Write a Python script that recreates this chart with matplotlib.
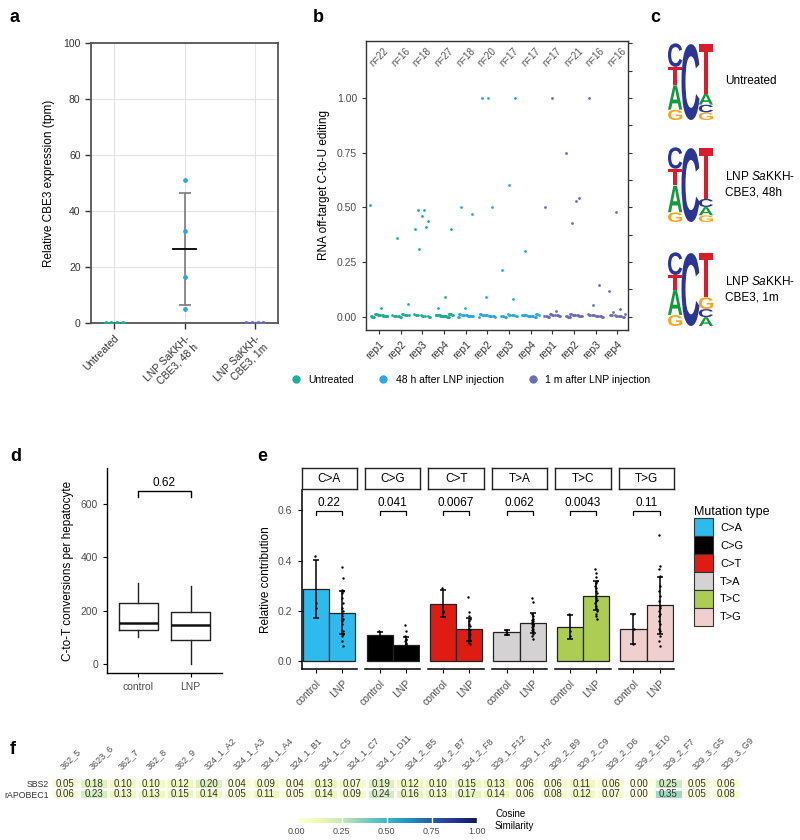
import numpy as np
import matplotlib
matplotlib.use('Agg')
import matplotlib.pyplot as plt
from matplotlib.textpath import TextPath
from matplotlib.patches import PathPatch, Patch
from matplotlib.font_manager import FontProperties
from matplotlib.lines import Line2D
import matplotlib.transforms as mtransforms

plt.rcParams['font.family'] = ['Liberation Sans', 'DejaVu Sans']
plt.rcParams['mathtext.fontset'] = 'custom'
plt.rcParams['mathtext.rm'] = 'Liberation Sans'
plt.rcParams['mathtext.it'] = 'Liberation Sans:italic'

# ------------------------------------------------------------------ data
# panel a
a_groups = ['Untreated', 'LNP SaKKH-\nCBE3, 48 h', 'LNP SaKKH-\nCBE3, 1m']
a_untreated = [0, 0, 0, 0]
a_48h = [51, 33, 16.5, 5]
a_1m = [0, 0, 0, 0]

# panel b
b_reps = ['rep1', 'rep2', 'rep3', 'rep4'] * 3
b_n = [22, 16, 18, 27, 18, 20, 17, 17, 17, 21, 16, 16]
b_series = ['Untreated', '48 h after LNP injection', '1 m after LNP injection']
b_nonzero = [
    [0.51, 0.04], [0.36, 0.06], [0.49, 0.49, 0.44, 0.46, 0.40, 0.41, 0.31], [0.40, 0.09, 0.04],
    [0.50, 0.47, 0.04], [1.00, 1.00, 0.50, 0.09], [1.00, 0.60, 0.215, 0.08], [0.30],
    [1.00, 0.50, 0.025], [0.545, 0.43, 0.75, 0.53], [1.00, 0.145, 0.055], [0.48, 0.12, 0.035, 0.02],
]

# panel c (probabilities, bottom -> top)
c_labels = ['Untreated', 'LNP $\\it{Sa}$KKH-\nCBE3, 48h', 'LNP $\\it{Sa}$KKH-\nCBE3, 1m']
c_logos = [
    [[('G', 0.135), ('A', 0.32), ('T', 0.235), ('C', 0.31)], [('C', 1.0)],
     [('G', 0.10), ('C', 0.10), ('A', 0.14), ('T', 0.66)]],
    [[('G', 0.13), ('A', 0.36), ('T', 0.22), ('C', 0.29)], [('C', 1.0)],
     [('G', 0.09), ('A', 0.11), ('C', 0.11), ('T', 0.69)]],
    [[('G', 0.15), ('A', 0.34), ('T', 0.20), ('C', 0.31)], [('C', 1.0)],
     [('A', 0.12), ('C', 0.11), ('G', 0.16), ('T', 0.61)]],
]

# panel d
d_groups = ['control', 'LNP']
d_stats = [  # whislo, q1, med, q3, whishi
    [100, 126, 152, 227, 302],
    [0, 90, 146, 196, 292],
]
d_p = '0.62'

# panel e
e_types = ['C>A', 'C>G', 'C>T', 'T>A', 'T>C', 'T>G']
e_pvals = ['0.22', '0.041', '0.0067', '0.062', '0.0043', '0.11']
e_control = [
    [0.42, 0.23, 0.21],
    [0.12, 0.10, 0.09],
    [0.29, 0.20, 0.195],
    [0.125, 0.11, 0.11],
    [0.19, 0.12, 0.10],
    [0.19, 0.13, 0.07],
]
e_lnp = [
    [0.375, 0.33, 0.285, 0.28, 0.27, 0.25, 0.23, 0.21, 0.2, 0.19, 0.18, 0.17, 0.16, 0.15, 0.12, 0.11, 0.11, 0.1, 0.08, 0.06],
    [0.145, 0.12, 0.1, 0.09, 0.085, 0.08, 0.075, 0.07, 0.065, 0.06, 0.06, 0.055, 0.05, 0.05, 0.045, 0.04, 0.035, 0.03, 0.03, 0.02],
    [0.255, 0.195, 0.18, 0.17, 0.16, 0.15, 0.14, 0.13, 0.125, 0.12, 0.115, 0.11, 0.105, 0.1, 0.095, 0.09, 0.085, 0.08, 0.075, 0.07],
    [0.25, 0.235, 0.19, 0.18, 0.17, 0.165, 0.16, 0.155, 0.15, 0.15, 0.148, 0.145, 0.14, 0.135, 0.13, 0.125, 0.12, 0.11, 0.1, 0.09],
    [0.365, 0.35, 0.335, 0.32, 0.31, 0.3, 0.29, 0.28, 0.27, 0.26, 0.25, 0.245, 0.24, 0.23, 0.22, 0.21, 0.2, 0.19, 0.18, 0.17],
    [0.5, 0.38, 0.365, 0.34, 0.3, 0.28, 0.26, 0.24, 0.22, 0.21, 0.2, 0.19, 0.18, 0.16, 0.15, 0.13, 0.12, 0.1, 0.08, 0.06],
]
e_colors = ['#2EBAED', '#000000', '#DE1C14', '#D4D2D2', '#ADCC54', '#F0D0CE']

# panel f
f_samples = ['362_5', '3623_6', '362_7', '362_8', '362_9', '324_1_A2', '324_1_A3', '324_1_A4',
             '324_1_B1', '324_1_C5', '324_1_C7', '324_1_D11', '324_2_B5', '324_2_B7', '324_2_F8',
             '329_1_F12', '329_1_H2', '329_2_B9', '329_2_C9', '329_2_D6', '329_2_E10', '329_2_F7',
             '329_3_G5', '329_3_G9']
f_rows = ['SBS2', 'rAPOBEC1']
f_sbs2 = [0.05, 0.18, 0.10, 0.10, 0.12, 0.20, 0.04, 0.09, 0.04, 0.13, 0.07, 0.19, 0.12, 0.10,
          0.15, 0.13, 0.06, 0.06, 0.11, 0.06, 0.00, 0.25, 0.05, 0.06]
f_rapobec1 = [0.06, 0.23, 0.13, 0.13, 0.15, 0.14, 0.05, 0.11, 0.05, 0.14, 0.09, 0.24, 0.16, 0.13,
              0.17, 0.14, 0.06, 0.08, 0.12, 0.07, 0.00, 0.35, 0.05, 0.08]

# ------------------------------------------------------------------ style
COL_UNT = '#1fae95'
COL_48 = '#2ba6e1'
COL_1M = '#6b6db9'
TXT = '#4d4d4d'
W, H = 800, 840
fig = plt.figure(figsize=(8, 8.4), dpi=100)


def rect(x0, y0, x1, y1):
    return [x0 / W, 1 - y1 / H, (x1 - x0) / W, (y1 - y0) / H]


def panel_letter(x, y, s):
    fig.text(x / W, 1 - y / H, s, fontsize=13, fontweight='bold', ha='left', va='center')


panel_letter(10, 17, 'a')
panel_letter(313, 17, 'b')
panel_letter(650, 17, 'c')
panel_letter(10, 457, 'd')
panel_letter(257, 457, 'e')
panel_letter(10, 749, 'f')

# ------------------------------------------------------------------ panel a
ax = fig.add_axes(rect(91, 43, 278, 323))
a_vals = [a_untreated, a_48h, a_1m]
a_cols = [COL_UNT, COL_48, COL_1M]
for i, (vals, c) in enumerate(zip(a_vals, a_cols)):
    vals = np.asarray(vals, float)
    if np.all(vals == vals[0]):
        xs = i + np.linspace(-0.12, 0.12, len(vals))
    else:
        xs = np.full(len(vals), float(i))
    ax.scatter(xs, vals, s=12, color=c, zorder=3, linewidths=0)
m = np.mean(a_48h)
sd = np.std(a_48h, ddof=1)
ax.errorbar(1, m, yerr=sd, fmt='none', ecolor='#7a7a7a', capsize=4.5, elinewidth=1.2, capthick=1.2, zorder=2)
ax.plot([1 - 0.16, 1 + 0.16], [m, m], color='black', lw=1.3, zorder=4)
ax.set_xlim(-0.33, 2.33)
ax.set_ylim(0, 100)
ax.set_yticks([0, 20, 40, 60, 80, 100])
ax.set_xticks([0, 1, 2])
ax.set_xticklabels(a_groups, rotation=45, ha='right', rotation_mode='anchor', fontsize=8.5, multialignment='right')
ax.grid(True, color='#e3e3e3', lw=0.8)
ax.set_axisbelow(True)
for s in ax.spines.values():
    s.set_color('#555555')
    s.set_linewidth(1.3)
ax.tick_params(labelsize=7.5, colors='#333333', length=4, width=1)
ax.set_ylabel('Relative CBE3 expression (tpm)', fontsize=8.5, labelpad=6)

# ------------------------------------------------------------------ panel b
ax = fig.add_axes(rect(366, 41, 628, 330))
grp_cols = [COL_UNT] * 4 + [COL_48] * 4 + [COL_1M] * 4
for i in range(12):
    nz = list(b_nonzero[i])
    n0 = b_n[i] - len(nz)
    k = np.arange(b_n[i])
    jx = ((k * 0.6180339 + 0.31 * i) % 1 - 0.5) * 0.8
    jy = np.concatenate([np.zeros(len(nz)), ((np.arange(n0) * 0.377) % 1) * 0.014])
    vals = np.array(nz + [0.0] * n0) + jy
    ax.scatter(i + jx, vals, s=4, color=grp_cols[i], linewidths=0, zorder=3)
    ax.text(i, 1.185, 'n=%d' % b_n[i], rotation=45, ha='center', va='center', fontsize=7, color='#555555')
ax.set_xlim(-0.6, 11.5)
ax.set_ylim(-0.06, 1.26)
ax.set_yticks([0, 0.25, 0.5, 0.75, 1.0])
ax.set_yticklabels(['0.00', '0.25', '0.50', '0.75', '1.00'])
ax.set_xticks(range(12))
ax.set_xticklabels(b_reps, rotation=45, ha='right', rotation_mode='anchor', fontsize=8.5)
ax.set_yticks([0.125, 0.375, 0.625, 0.875, 1.125, 1.25], minor=True)
for s in ax.spines.values():
    s.set_color('#333333')
    s.set_linewidth(1.0)
ax.tick_params(labelsize=7.5, colors='#333333', length=3, width=0.8)
ax.tick_params(axis='y', which='both', right=True, labelright=False, labelcolor=TXT)
ax.tick_params(axis='y', which='minor', left=False, length=3, width=0.8, color='#333333')
ax.set_ylabel('RNA off-target C-to-U editing', fontsize=8.5, labelpad=5)
handles = [Line2D([], [], marker='o', ls='', color=c, markersize=5) for c in (COL_UNT, COL_48, COL_1M)]
fig.legend(handles, b_series, loc='center', bbox_to_anchor=(470 / W, 1 - 380 / H), ncol=3,
           frameon=False, fontsize=7.5, handletextpad=0.6, columnspacing=2.2, handlelength=1.2)

# ------------------------------------------------------------------ panel c
fp = FontProperties(family='Liberation Sans', weight='bold')
LOGO_COL = {'A': '#129a3c', 'C': '#2b3592', 'G': '#f5a623', 'T': '#d91d2b'}


def draw_letter(axl, ch, x0, y0, w, h, color):
    tp = TextPath((0, 0), ch, size=1, prop=fp)
    bb = tp.get_extents()
    tr = mtransforms.Affine2D().translate(-bb.x0, -bb.y0).scale(w / bb.width, h / bb.height).translate(x0, y0)
    axl.add_patch(PathPatch(tr.transform_path(tp), fc=color, ec='none'))


logo_y = [(43, 120), (147, 222), (252, 326)]
pos_w = [0.95, 1.2, 0.95]
pos_x = [0.0, 0.9, 2.05]
for li, logo in enumerate(c_logos):
    y0, y1 = logo_y[li]
    axl = fig.add_axes(rect(668, y0, 713, y1))
    axl.set_xlim(0, 3)
    axl.set_ylim(0, 1)
    axl.axis('off')
    for pi, stack in enumerate(logo):
        base = 0.0
        for ch, p in stack:
            draw_letter(axl, ch, pos_x[pi], base, pos_w[pi], p * 0.985, LOGO_COL[ch])
            base += p
    fig.text(725 / W, 1 - (y0 + y1) / 2 / H, c_labels[li], fontsize=8.5, ha='left', va='center', linespacing=1.4)

# ------------------------------------------------------------------ panel d
ax = fig.add_axes(rect(107, 468, 222, 673))
bxp_stats = [dict(whislo=s[0], q1=s[1], med=s[2], q3=s[3], whishi=s[4], label=g, fliers=[])
             for s, g in zip(d_stats, d_groups)]
ax.bxp(bxp_stats, positions=[0, 1], widths=0.75, showcaps=False, showfliers=False,
       boxprops=dict(color='#222222', lw=1.0), whiskerprops=dict(color='#222222', lw=1.0),
       medianprops=dict(color='#111111', lw=1.8))
ax.plot([0, 0, 1, 1], [628, 650, 650, 628], color='black', lw=1.0)
ax.text(0.5, 658, d_p, ha='center', va='bottom', fontsize=8.5)
ax.set_xlim(-0.6, 1.6)
ax.set_ylim(-34, 735)
ax.set_yticks([0, 200, 400, 600])
ax.set_xticks([0, 1])
ax.set_xticklabels(d_groups)
for s in ('top', 'right'):
    ax.spines[s].set_visible(False)
for s in ('left', 'bottom'):
    ax.spines[s].set_linewidth(1.0)
ax.tick_params(labelsize=7.5, labelcolor=TXT, length=3, width=0.8)
ax.set_ylabel('C-to-T conversions per hepatocyte', fontsize=8.5, labelpad=5)

# ------------------------------------------------------------------ panel e
fx0, fstep, fw = 301.5, 63.45, 55.5
for i, mt in enumerate(e_types):
    x0 = fx0 + i * fstep
    ax = fig.add_axes(rect(x0, 490, x0 + fw, 669))
    groups = [e_control[i], e_lnp[i]]
    means = [np.mean(g) for g in groups]
    sds = [np.std(g, ddof=1) for g in groups]
    ax.bar([0, 1], means, width=1.0, color=e_colors[i], edgecolor='#222222', linewidth=0.9, zorder=1)
    ax.errorbar([0, 1], means, yerr=sds, fmt='none', ecolor='black', capsize=2.2, elinewidth=1.1,
                capthick=1.1, zorder=3)
    for gx, g in enumerate(groups):
        k = np.arange(len(g))
        jx = ((k * 0.6180339) % 1 - 0.5) * 0.06
        ax.scatter(gx + jx, g, s=3, color='black', linewidths=0, zorder=4)
    ax.plot([0, 0, 1, 1], [0.58, 0.595, 0.595, 0.58], color='black', lw=0.9)
    ax.text(0.5, 0.603, e_pvals[i], ha='center', va='bottom', fontsize=8.5)
    ax.set_xlim(-0.56, 1.56)
    ax.set_ylim(-0.03, 0.68)
    ax.set_xticks([0, 1])
    ax.set_xticklabels(['control', 'LNP'], rotation=45, ha='right', rotation_mode='anchor')
    for s in ('top', 'right'):
        ax.spines[s].set_visible(False)
    ax.spines['bottom'].set_linewidth(1.1)
    ax.tick_params(labelsize=7.5, labelcolor=TXT, length=3, width=0.8)
    if i == 0:
        ax.set_yticks([0, 0.2, 0.4, 0.6])
        ax.set_yticklabels(['0.0', '0.2', '0.4', '0.6'])
        ax.spines['left'].set_linewidth(1.1)
        ax.set_ylabel('Relative contribution', fontsize=8.5, labelpad=4)
    else:
        ax.spines['left'].set_visible(False)
        ax.set_yticks([])
    # strip
    axs = fig.add_axes(rect(x0, 468, x0 + fw, 489))
    axs.set_xticks([])
    axs.set_yticks([])
    for s in axs.spines.values():
        s.set_linewidth(1.0)
        s.set_color('#222222')
    axs.text(0.5, 0.5, mt, ha='center', va='center', fontsize=8.5, transform=axs.transAxes)

leg_handles = [Patch(facecolor=c, edgecolor='#333333', linewidth=0.8) for c in e_colors]
fig.legend(leg_handles, e_types, title='Mutation type', loc='upper left',
           bbox_to_anchor=(690 / W, 1 - 502 / H), frameon=False, fontsize=8, title_fontsize=9,
           handlelength=1.7, handleheight=2.1, labelspacing=0.0, handletextpad=0.6, alignment='left',
           borderaxespad=0.0)

# ------------------------------------------------------------------ panel f
ax = fig.add_axes(rect(50.7, 778.3, 740, 799.3))
M = np.array([f_sbs2, f_rapobec1])
mesh = ax.pcolormesh(M, cmap='YlGnBu', vmin=0, vmax=1, edgecolors='white', linewidth=0.8, alpha=0.85)
ax.set_ylim(2, 0)
ax.set_xlim(0, len(f_samples))
for r in range(M.shape[0]):
    for cidx in range(M.shape[1]):
        ax.text(cidx + 0.5, r + 0.5, '%.2f' % M[r, cidx], ha='center', va='center', fontsize=7, color='#333333')
ax.set_yticks([0.5, 1.5])
ax.set_yticklabels(f_rows, fontsize=6.3, color='#333333')
ax.xaxis.tick_top()
ax.set_xticks(np.arange(len(f_samples)) + 0.5)
ax.set_xticklabels(f_samples, rotation=45, ha='left', va='bottom', rotation_mode='anchor', fontsize=6.5, color=TXT)
ax.tick_params(axis='y', length=0, pad=1)
ax.tick_params(axis='x', length=0, pad=5)
for s in ax.spines.values():
    s.set_visible(False)

cax = fig.add_axes(rect(296.7, 817.5, 476.7, 822.5))
cb = fig.colorbar(mesh, cax=cax, orientation='horizontal', ticks=[0, 0.25, 0.5, 0.75, 1.0])
cb.solids.set_alpha(1)
cb.outline.set_visible(False)
cax.set_xticklabels(['0.00', '0.25', '0.50', '0.75', '1.00'])
cax.tick_params(axis='x', direction='in', color='white', length=5, width=1, labelsize=6.5, labelcolor=TXT, pad=3)
fig.text(495 / W, 1 - 820 / H, 'Cosine\nSimilarity', fontsize=7, ha='left', va='center', linespacing=1.3)

fig.savefig('out.png', dpi=100)
